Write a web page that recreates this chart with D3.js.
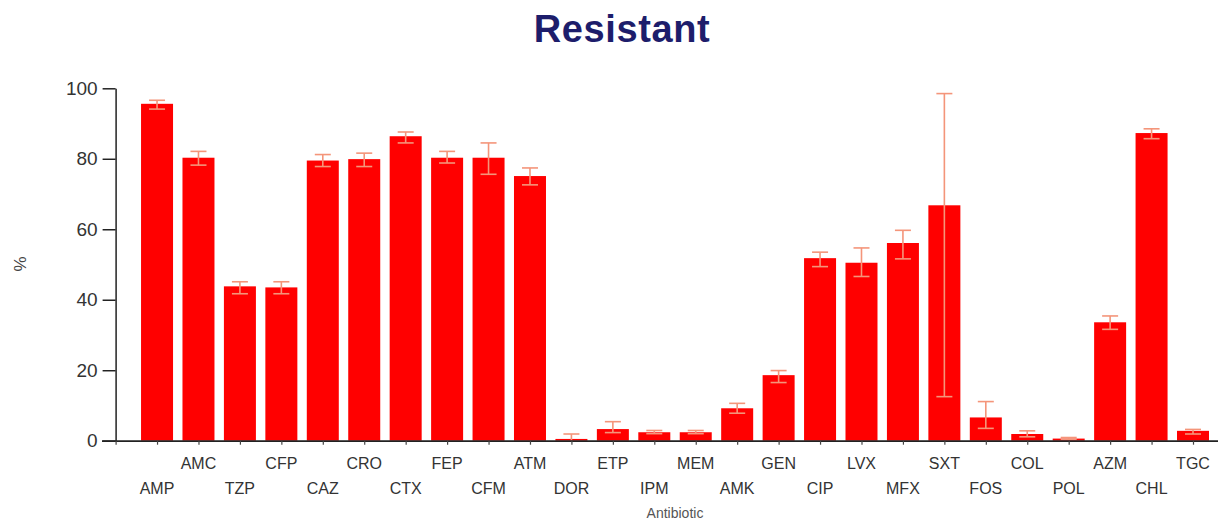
<!DOCTYPE html>
<html>
<head>
<meta charset="utf-8">
<script src="https://cdn.jsdelivr.net/npm/d3@7"></script>
<style>
  html, body { margin: 0; padding: 0; background: #fff; }
  svg { display: block; }
</style>
</head>
<body>
<svg id="chart" width="1223" height="521"></svg>
<script>
const categories = ["AMP","AMC","TZP","CFP","CAZ","CRO","CTX","FEP","CFM","ATM","DOR","ETP","IPM","MEM","AMK","GEN","CIP","LVX","MFX","SXT","FOS","COL","POL","AZM","CHL","TGC"];
const values     = [95.6, 80.3, 43.8, 43.5, 79.5, 79.9, 86.4, 80.3, 80.3, 75.1, 0.5, 3.3, 2.4, 2.4, 9.2, 18.6, 51.8, 50.5, 56.1, 66.8, 6.6, 1.9, 0.6, 33.6, 87.3, 2.8];
const errLow     = [94.1, 78.2, 41.7, 41.7, 77.8, 77.8, 84.5, 78.8, 75.6, 72.6, 0.0, 2.3, 2.0, 2.0, 7.8, 16.5, 49.4, 46.6, 51.6, 12.5, 3.5, 1.1, 0.4, 31.6, 85.7, 1.9];
const errHigh    = [96.6, 82.1, 45.1, 45.1, 81.2, 81.6, 87.6, 82.1, 84.5, 77.4, 1.9, 5.4, 2.9, 2.9, 10.6, 19.9, 53.5, 54.7, 59.7, 98.5, 11.1, 2.8, 0.9, 35.4, 88.5, 3.2];
const yTicks     = [0, 20, 40, 60, 80, 100];
const titleText  = "Resistant";
const xTitle     = "Antibiotic";
const yTitle     = "%";

const svg = d3.select("#chart");

const x = d3.scaleLinear().domain([-1, categories.length - 1]).range([115.6, 1193]);
const y = d3.scaleLinear().domain([0, 100]).range([440.7, 88.3]);
const barW = 32;
const capW = 16;

// title
svg.append("text")
  .attr("x", 622).attr("y", 42)
  .attr("text-anchor", "middle")
  .attr("font-family", "Liberation Sans, Arial, sans-serif")
  .attr("font-weight", "bold")
  .attr("font-size", 38)
  .attr("letter-spacing", 0.6)
  .attr("fill", "#1d1d6b")
  .text(titleText);

// bars
svg.append("g").selectAll("rect").data(values).join("rect")
  .attr("x", (d, i) => x(i) - barW / 2)
  .attr("width", barW)
  .attr("y", d => y(d))
  .attr("height", d => y(0) - y(d))
  .attr("fill", "#ff0000");

// error bars
const eg = svg.append("g").attr("stroke", "#f4957a").attr("stroke-width", 1.6).attr("fill", "none");
categories.forEach((c, i) => {
  const lo = Math.max(0, errLow[i]);
  eg.append("line").attr("x1", x(i)).attr("x2", x(i)).attr("y1", y(errHigh[i])).attr("y2", y(lo));
  eg.append("line").attr("x1", x(i) - capW / 2).attr("x2", x(i) + capW / 2).attr("y1", y(errHigh[i])).attr("y2", y(errHigh[i]));
  if (errLow[i] > 0) {
    eg.append("line").attr("x1", x(i) - capW / 2).attr("x2", x(i) + capW / 2).attr("y1", y(lo)).attr("y2", y(lo));
  }
});

// y axis
const yAxis = d3.axisLeft(y).tickValues(yTicks).tickSize(13).tickPadding(5).tickSizeOuter(0);
const yg = svg.append("g").attr("transform", `translate(${x(-1)},0)`).call(yAxis);
yg.select(".domain").attr("stroke", "#222").attr("stroke-width", 1.5);
yg.selectAll(".tick line").attr("stroke", "#222").attr("stroke-width", 1.5);
yg.selectAll(".tick text")
  .attr("font-family", "Liberation Sans, Arial, sans-serif")
  .attr("font-size", 19).attr("fill", "#333");

// x axis
const xTickVals = d3.range(-1, categories.length);
const xAxis = d3.axisBottom(x).tickValues(xTickVals).tickSize(4).tickFormat("").tickSizeOuter(0);
const xg = svg.append("g").attr("transform", `translate(0,${y(0)})`).call(xAxis);
xg.select(".domain").attr("stroke", "#222").attr("stroke-width", 1.8)
  .attr("d", `M102,0.5H1218`);
xg.selectAll(".tick line").attr("stroke", "#444").attr("stroke-width", 1.2);

// staggered category labels
svg.append("g").selectAll("text").data(categories).join("text")
  .attr("x", (d, i) => x(i))
  .attr("y", (d, i) => i % 2 === 1 ? 469 : 494)
  .attr("text-anchor", "middle")
  .attr("font-family", "Liberation Sans, Arial, sans-serif")
  .attr("font-size", 16)
  .attr("fill", "#333")
  .text(d => d);

// axis titles
svg.append("text")
  .attr("x", 675).attr("y", 518)
  .attr("text-anchor", "middle")
  .attr("font-family", "Liberation Sans, Arial, sans-serif")
  .attr("font-size", 14).attr("fill", "#555")
  .text(xTitle);

svg.append("text")
  .attr("transform", "translate(26,264) rotate(-90)")
  .attr("text-anchor", "middle")
  .attr("font-family", "Liberation Sans, Arial, sans-serif")
  .attr("font-size", 17).attr("fill", "#444")
  .text(yTitle);
</script>
</body>
</html>
